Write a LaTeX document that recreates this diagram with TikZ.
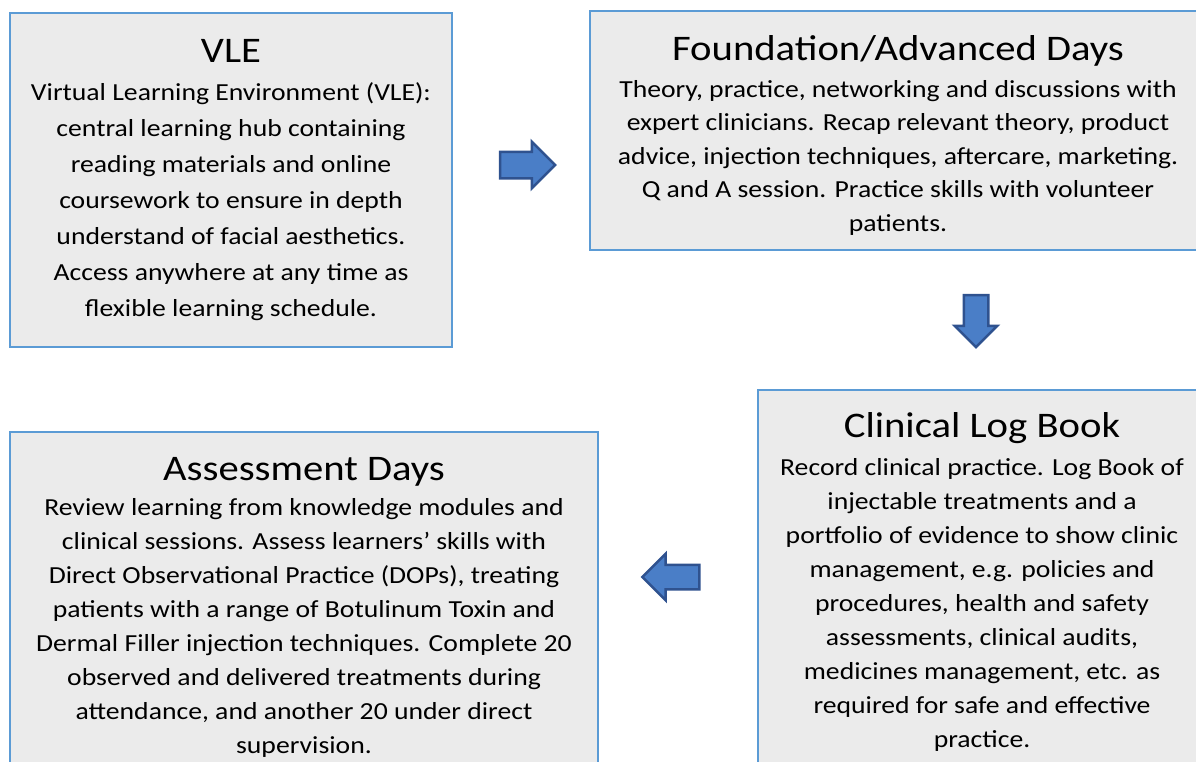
\documentclass[tikz,border=0pt]{standalone}
\usepackage{fontspec}
\setmainfont[FakeStretch=1.13]{Carlito}
\usetikzlibrary{shapes.arrows, positioning}
\definecolor{panelfill}{HTML}{EBEBEB}
\definecolor{panelline}{HTML}{5B9BD5}
\definecolor{arrowfill}{HTML}{4A7EC7}
\definecolor{arrowline}{HTML}{2F528F}
\tikzset{
    panel/.style={draw=panelline, fill=panelfill, line width=1.5pt, rectangle, inner sep=0pt},
    heading/.style={font=\fontsize{36}{44}\selectfont, anchor=base, inner sep=0pt},
    body/.style={font=\fontsize{24.5}{34}\selectfont, align=center, anchor=base, inner sep=0pt},
    blockarrow/.style={single arrow, draw=arrowline, fill=arrowfill, line width=2.5pt, inner sep=12pt, single arrow head extend=10pt}
}

\begin{document}
\begin{tikzpicture}[x=1pt, y=-1pt]
    \path[use as bounding box, clip] (0,0) rectangle (1196,761);

    % boxes
    \node[panel, minimum width=442pt, minimum height=334pt] (vle) at (231,180) {};
    \node[panel, minimum width=616pt, minimum height=239pt] (found) at (898,130.5) {};
    \node[panel, minimum width=448pt, minimum height=390pt] (log) at (982,585) {};
    \node[panel, minimum width=588pt, minimum height=350pt] (assess) at (304,607) {};

    % titles and text (body nodes sit on their last baseline)
    \node[heading] (vletitle) at (231,62) {VLE};
    \node[body, font=\fontsize{24.5}{36}\selectfont] (vletext) at (231,316) {Virtual Learning Environment (VLE):\\
        central learning hub containing\\ reading materials and online\\
        coursework to ensure in depth\\ understand of facial aesthetics.\\
        Access anywhere at any time as\\ flexible learning schedule.};

    \node[heading] (foundtitle) at (898,60) {Foundation/Advanced Days};
    \node[body, font=\fontsize{24.5}{33.5}\selectfont] (foundtext) at (898,231) {Theory, practice, networking and discussions with\\
        expert clinicians. Recap relevant theory, product\\
        advice, injection techniques, aftercare, marketing.\\
        Q and A session. Practice skills with volunteer\\ patients.};

    \node[heading] (logtitle) at (982,437) {Clinical Log Book};
    \node[body] (logtext) at (982,747) {Record clinical practice. Log Book of\\
        injectable treatments and a\\ portfolio of evidence to show clinic\\
        management, e.g. policies and\\ procedures, health and safety\\
        assessments, clinical audits,\\ medicines management, etc. as\\
        required for safe and effective\\ practice.};

    \node[heading] (assesstitle) at (304,480) {Assessment Days};
    \node[body] (assesstext) at (304,753) {Review learning from knowledge modules and\\
        clinical sessions. Assess learners’ skills with\\
        Direct Observational Practice (DOPs), treating\\
        patients with a range of Botulinum Toxin and\\
        Dermal Filler injection techniques. Complete 20\\
        observed and delivered treatments during\\
        attendance, and another 20 under direct\\ supervision.};

    % arrows
    \node[blockarrow, minimum height=55pt, minimum width=45pt] (toright) at (521,165) {};
    \node[blockarrow, minimum height=52pt, minimum width=42pt, inner sep=11pt, single arrow head extend=9pt, shape border rotate=270] (todown) at (976,315) {};
    \node[blockarrow, minimum height=57pt, minimum width=45pt, inner sep=11pt, single arrow head extend=11pt, shape border rotate=180] (toleft) at (677,577) {};
\end{tikzpicture}
\end{document}
